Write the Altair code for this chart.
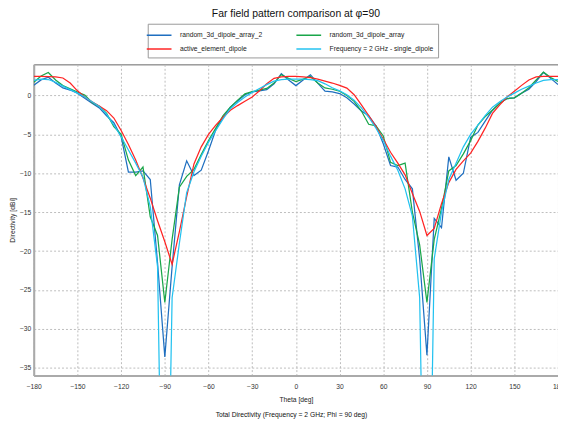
import altair as alt
import pandas as pd

theta = [-180, -175, -170, -165, -160, -155, -150, -145, -140, -135,
         -130, -125, -120, -115, -110, -105, -100, -95, -90, -85,
         -80, -75, -70, -65, -60, -55, -50, -45, -40, -35,
         -30, -25, -20, -15, -10, -5, 0, 5, 10, 15,
         20, 25, 30, 35, 40, 45, 50, 55, 60, 65,
         70, 75, 80, 85, 90, 95, 100, 105, 110, 115,
         120, 125, 130, 135, 140, 145, 150, 155, 160, 165,
         170, 175, 180]

array_2 = [1.3, 2.0, 2.35, 1.6, 0.97, 0.7, 0.3, -0.35, -1.0, -1.6,
           -2.6, -3.5, -5.3, -9.85, -9.85, -9.7, -10.8, -21.5, -33.6, -22.0,
           -11.5, -8.4, -10.3, -9.6, -7.1, -4.4, -2.8, -1.5, -0.7, 0.1,
           0.45, 0.6, 0.75, 1.5, 2.8, 2.0, 1.27, 2.0, 2.67, 1.6,
           0.55, 0.45, 0.25, -0.3, -1.1, -2.0, -2.6, -3.9, -6.2, -9.0,
           -9.2, -10.8, -12.0, -21.0, -33.4, -15.8, -17.0, -7.9, -10.9, -10.0,
           -5.4, -4.75, -3.3, -1.9, -1.0, -0.4, -0.3, 0.3, 0.8, 1.8,
           2.96, 2.2, 1.4]

array_1 = [1.7, 2.5, 2.96, 2.0, 1.27, 0.85, 0.45, 0.05, -0.9, -1.4,
           -2.3, -4.0, -5.0, -8.3, -10.3, -9.2, -15.6, -18.0, -26.6, -18.5,
           -11.8, -10.4, -9.5, -7.6, -5.8, -4.2, -2.6, -1.5, -0.6, 0.2,
           0.5, 0.7, 0.9, 1.6, 2.67, 2.2, 1.8, 2.1, 2.45, 1.6,
           0.97, 0.8, 0.55, 0.0, -0.75, -2.0, -3.7, -3.9, -5.2, -8.6,
           -9.0, -8.7, -15.0, -19.2, -26.6, -18.5, -14.5, -9.7, -9.0, -7.5,
           -5.8, -3.8, -2.7, -1.9, -1.0, -0.4, -0.3, 0.3, 1.0, 2.0,
           3.0, 2.3, 1.8]

active = [2.45, 2.45, 2.42, 2.4, 2.25, 1.6, 0.6, -0.2, -0.8, -1.35,
          -1.95, -2.9, -4.5, -6.3, -8.3, -10.6, -13.2, -16.1, -18.8, -21.7,
          -17.5, -13.0, -8.8, -6.6, -5.0, -3.8, -2.8, -1.9, -1.3, -0.75,
          -0.2, 0.6, 1.5, 2.2, 2.4, 2.45, 2.45, 2.4, 2.3, 2.1,
          1.85, 1.6, 1.3, 0.95, 0.1, -1.2, -2.6, -4.0, -5.6, -7.3,
          -8.7, -10.2, -12.6, -14.9, -18.0, -17.1, -13.9, -11.2, -9.5, -8.4,
          -7.4, -5.9, -4.2, -2.3, -1.2, -0.2, 0.55, 1.3, 2.0, 2.4,
          2.45, 2.45, 2.45]

single = [1.95, 2.1, 2.05, 1.7, 1.2, 0.75, 0.3, -0.2, -0.8, -1.4,
          -2.4, -3.8, -5.3, -7.0, -8.7, -10.5, -14.3, -22.0, -79.0, -26.0,
          -19.0, -12.5, -9.8, -7.8, -6.0, -4.5, -3.0, -1.7, -0.9, -0.2,
          0.4, 0.9, 1.4, 1.85, 2.05, 2.1, 2.1, 2.1, 2.05, 1.9,
          1.5, 1.0, 0.6, 0.1, -0.6, -1.6, -2.8, -4.2, -5.8, -7.8,
          -9.6, -12.0, -15.5, -26.0, -79.0, -21.0, -15.0, -10.8, -8.7, -6.6,
          -5.0, -3.8, -2.6, -1.5, -0.8, -0.2, 0.3, 0.8, 1.2, 1.6,
          1.95, 2.05, 2.03]

# drawing order (bottom to top)
names = ["random_3d_dipole_array_2", "random_3d_dipole_array",
         "active_element_dipole", "Frequency = 2 GHz - single_dipole"]
colors = ["#1f6fc0", "#1aa64a", "#ff2424", "#22c2f0"]
# legend order (filled column by column)
legend_order = [0, 2, 1, 3]

x_ticks = [-180, -150, -120, -90, -60, -30, 0, 30, 60, 90, 120, 150, 180]
y_ticks = [-35, -30, -25, -20, -15, -10, -5, 0]

title_text = "Far field pattern comparison at \u03c6=90"
foot_text = "Total Directivity (Frequency = 2 GHz; Phi = 90 deg)"

FONT = "Liberation Sans"
W, H = 529, 314

rows = []
for name, vals in zip(names, [array_2, array_1, active, single]):
    for t, v in zip(theta, vals):
        rows.append({"theta": t, "dB": v, "series": name})
df = pd.DataFrame(rows)

color = alt.Color(
    "series:N",
    scale=alt.Scale(domain=[names[i] for i in legend_order],
                    range=[colors[i] for i in legend_order]),
    legend=alt.Legend(
        title=None, orient="none", legendX=115, legendY=-41, columns=2,
        symbolType="M-2,0H2", symbolSize=156, symbolStrokeWidth=1.5,
        labelFont=FONT, labelFontSize=6.8, labelColor="#222", labelLimit=0,
        labelOffset=14, strokeColor="#999", fillColor="white", padding=4.5,
        columnPadding=30, rowPadding=3,
    ),
)
x = alt.X("theta:Q", scale=alt.Scale(domain=[-180, 180], nice=False, zero=False),
          axis=alt.Axis(values=x_ticks, title="Theta [deg]", labelPadding=8,
                        titlePadding=6, labelFlush=False))
y = alt.Y("dB:Q", scale=alt.Scale(domain=[-36, 4], nice=False, zero=False),
          axis=alt.Axis(values=y_ticks, title="Directivity [dBi]", labelPadding=3,
                        titlePadding=4))

layers = []
for n in names:
    layers.append(
        alt.Chart(df).transform_filter(alt.datum.series == n)
        .mark_line(strokeWidth=1.25, clip=True)
        .encode(x=x, y=y, color=color)
    )

title_mark = alt.Chart(pd.DataFrame({"t": [title_text]})).mark_text(
    font=FONT, fontSize=10.5, color="#111", baseline="middle", align="center"
).encode(text="t:N", x=alt.value(W / 2), y=alt.value(-51))

foot_mark = alt.Chart(pd.DataFrame({"t": [foot_text]})).mark_text(
    font=FONT, fontSize=6.8, color="#111", baseline="middle", align="center"
).encode(text="t:N", x=alt.value(260), y=alt.value(354))

chart = alt.layer(*layers, title_mark, foot_mark).properties(
    width=W, height=H,
    autosize=alt.AutoSizeParams(type="none"),
    padding={"left": 26, "top": 55, "right": 0, "bottom": 44},
).configure_view(
    stroke="#666", strokeWidth=1
).configure_axis(
    domainColor="#aaa", domainWidth=2, gridColor="#bdbdbd", gridDash=[2, 2],
    ticks=False, labelFont=FONT, labelFontSize=6.8, labelColor="#333",
    titleFont=FONT, titleFontSize=6.8, titleFontWeight="normal", titleColor="#222",
)

chart.save("out.html", embed_options={"renderer": "svg", "actions": False})
